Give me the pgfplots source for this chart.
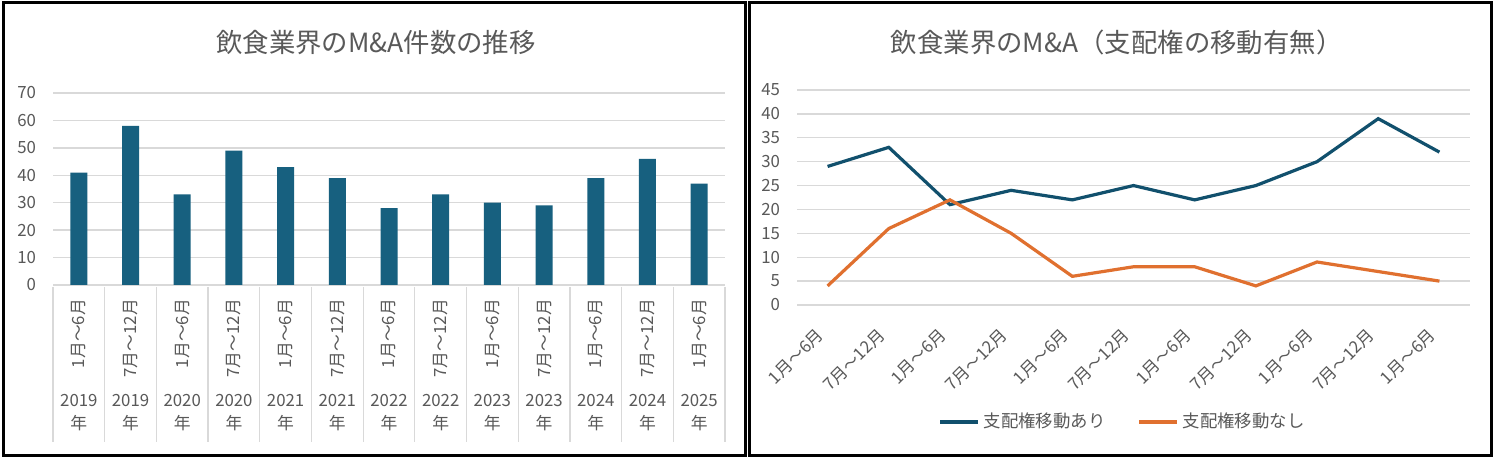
\documentclass[border=0pt]{standalone}
\usepackage{pgfplots}
\pgfplotsset{compat=1.18}
\usepackage{fontspec}
\setmainfont{Noto Sans CJK JP}
\definecolor{barblue}{HTML}{17607F}
\definecolor{lineblue}{HTML}{11506D}
\definecolor{lineorange}{HTML}{E0702F}
\definecolor{txt}{HTML}{595959}
\definecolor{grd}{HTML}{D9D9D9}
\begin{document}
\begin{tikzpicture}
\path[fill=white] (0pt,0pt) rectangle (748.5pt,229pt);
\draw[line width=1.6pt] (1.6pt,1.4pt) rectangle (372.6pt,227.6pt);
\draw[line width=1.6pt] (374.6pt,1.4pt) rectangle (745.6pt,227.6pt);
% ---------------- left chart ----------------
\begin{axis}[
  at={(26.5pt,86.5pt)}, anchor=south west, scale only axis,
  width=336pt, height=96pt,
  xmin=-0.5, xmax=12.5, ymin=0, ymax=70,
  ytick={0,10,...,70},
  xtick={0,...,12},
  xticklabels={1月～6月,7月～12月,1月～6月,7月～12月,1月～6月,7月～12月,1月～6月,7月～12月,1月～6月,7月～12月,1月～6月,7月～12月,1月～6月},
  xticklabel style={yshift=-3.5pt, rotate=90, anchor=east},
  ymajorgrids, grid style={grd, line width=0.7pt},
  axis line style={draw=none}, major tick length=0pt,
  tick label style={font=\fontsize{8.4}{9}\selectfont, text=txt},
  yticklabel style={xshift=-5pt},
  /pgf/number format/assume math mode=true,
  clip=false,
  title={飲食業界のM\&A件数の推移},
  title style={at={(0.4807,1.198)}, anchor=center, font=\fontsize{13.2}{14}\selectfont, text=txt},
]
\addplot[ybar, bar width=8.5pt, fill=barblue, draw=none] coordinates {
(0,41) (1,58) (2,33) (3,49) (4,43) (5,39) (6,28) (7,33) (8,30) (9,29) (10,39) (11,46) (12,37)};
\pgfplotsinvokeforeach{-0.5,0.5,1.5,2.5,3.5,4.5,5.5,6.5,7.5,8.5,9.5,10.5,11.5,12.5}{
  \draw[grd, line width=0.6pt] ([yshift=-1pt]axis cs:#1,0) -- ([yshift=-78.5pt]axis cs:#1,0);
}
\tikzset{yr/.style={align=center, font=\fontsize{8.4}{11.5}\selectfont, text=txt, yshift=-64pt}}
\node[yr] at (axis cs:0,0) {2019\\年};
\node[yr] at (axis cs:1,0) {2019\\年};
\node[yr] at (axis cs:2,0) {2020\\年};
\node[yr] at (axis cs:3,0) {2020\\年};
\node[yr] at (axis cs:4,0) {2021\\年};
\node[yr] at (axis cs:5,0) {2021\\年};
\node[yr] at (axis cs:6,0) {2022\\年};
\node[yr] at (axis cs:7,0) {2022\\年};
\node[yr] at (axis cs:8,0) {2023\\年};
\node[yr] at (axis cs:9,0) {2023\\年};
\node[yr] at (axis cs:10,0) {2024\\年};
\node[yr] at (axis cs:11,0) {2024\\年};
\node[yr] at (axis cs:12,0) {2025\\年};
\end{axis}
% ---------------- right chart ----------------
\begin{axis}[
  at={(398.5pt,76.5pt)}, anchor=south west, scale only axis,
  width=336.5pt, height=107.5pt,
  xmin=-0.5, xmax=10.5, ymin=0, ymax=45,
  ytick={0,5,...,45},
  xtick={0,...,10},
  xticklabels={1月～6月,7月～12月,1月～6月,7月～12月,1月～6月,7月～12月,1月～6月,7月～12月,1月～6月,7月～12月,1月～6月},
  xticklabel style={yshift=-11pt, xshift=-1pt, rotate=45, anchor=east},
  ymajorgrids, grid style={grd, line width=0.7pt},
  axis line style={draw=none}, major tick length=0pt,
  tick label style={font=\fontsize{8.4}{9}\selectfont, text=txt},
  yticklabel style={xshift=-5pt},
  /pgf/number format/assume math mode=true,
  clip=false,
  title={飲食業界のM\&A（支配権の移動有無）},
  title style={at={(0.475,1.163)}, anchor=center, font=\fontsize{13.2}{14}\selectfont, text=txt},
  legend columns=2,
  legend style={at={(0.485,-0.544)}, anchor=center, draw=none, fill=none,
    font=\fontsize{8.7}{10}\selectfont, text=txt,
    /tikz/every even column/.append style={column sep=14pt}},
  legend image code/.code={\draw[#1] (0pt,0pt) -- (19pt,0pt);},
]
\addplot[lineblue, line width=1.6pt] coordinates {
(0,29) (1,33) (2,21) (3,24) (4,22) (5,25) (6,22) (7,25) (8,30) (9,39) (10,32)};
\addlegendentry{支配権移動あり}
\addplot[lineorange, line width=1.6pt] coordinates {
(0,4) (1,16) (2,22) (3,15) (4,6) (5,8) (6,8) (7,4) (8,9) (9,7) (10,5)};
\addlegendentry{支配権移動なし}
\end{axis}
\end{tikzpicture}
\end{document}
